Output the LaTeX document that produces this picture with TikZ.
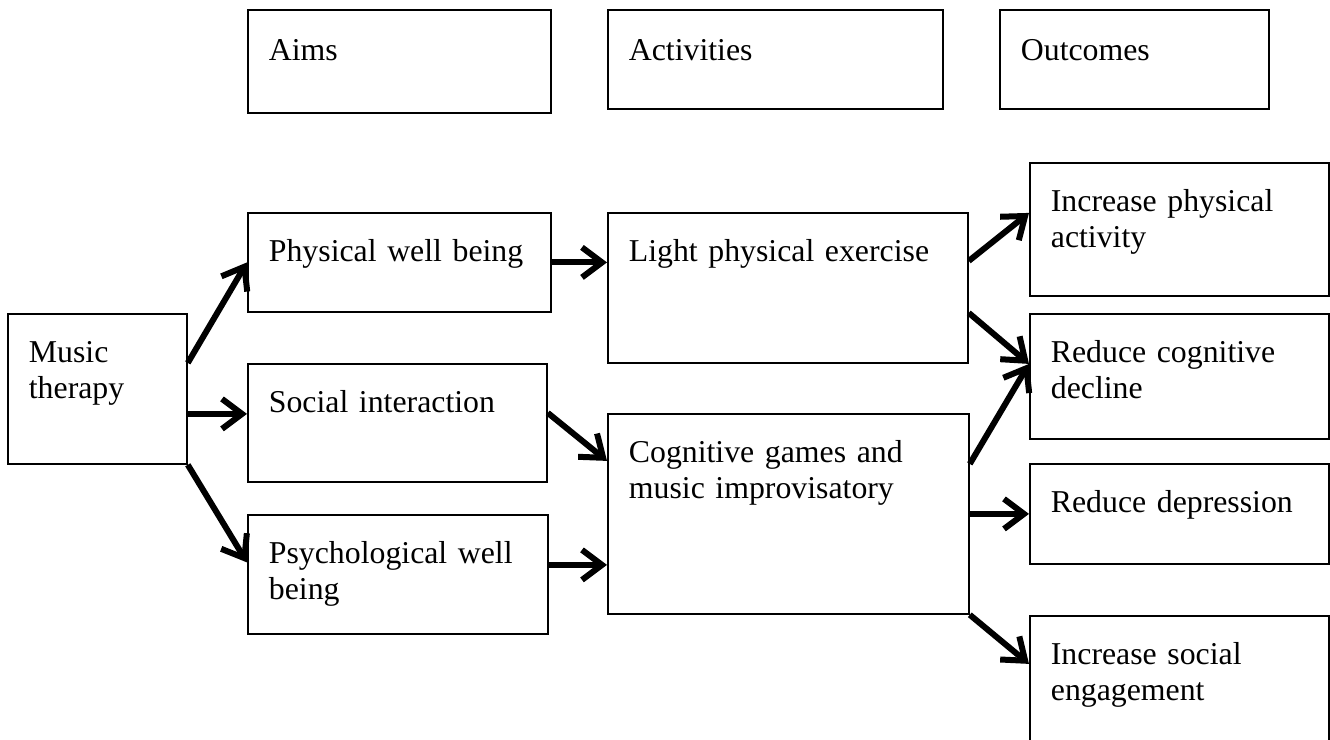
\documentclass[tikz,border=0pt]{standalone}
\usepackage{fontspec}
\setmainfont{Liberation Serif}
\usetikzlibrary{arrows.meta}

\begin{document}
\begin{tikzpicture}[x=0.5pt, y=-0.5pt,
  box/.style = {draw, line width=0.9pt, anchor=north west, align=left,
    inner xsep=10.5pt, inner ysep=0pt, text height=24.5pt,
    font=\fontsize{15.9}{18}\selectfont},
  arr/.style = {line width=3pt, -{Straight Barb[length=10pt, width=15pt]}}]
\useasboundingbox (0,0) rectangle (1330,740);
\path (247,9) node[box, text height=25.5pt, text width=130.5pt, text depth=26pt] (aims) {Aims};
\path (607,9) node[box, text height=25.5pt, text width=146.5pt, text depth=24pt] (act) {Activities};
\path (999,9) node[box, text height=25.5pt, text width=113.5pt, text depth=24pt] (out) {Outcomes};
\path (7,313) node[box, text width=68.5pt, text depth=50.5pt] (music) {Music\\therapy};
\path (247,212) node[box, text width=130.5pt, text depth=25pt] (phys) {Physical well being};
\path (247,363) node[box, text width=128.5pt, text depth=34.5pt] (soc) {Social interaction};
\path (247,514) node[box, text width=129pt, text depth=35pt] (psy) {Psychological well\\being};
\path (607,212) node[box, text width=159pt, text depth=50.5pt] (light) {Light physical exercise};
\path (607,413) node[box, text width=159.5pt, text depth=75.5pt] (cog) {Cognitive games and\\music improvisatory};
\path (1029,162) node[box, text width=128.5pt, text depth=42pt] (incphys) {Increase physical\\activity};
\path (1029,313) node[box, text width=128.5pt, text depth=38pt] (redcog) {Reduce cognitive\\decline};
\path (1029,463) node[box, text width=128.5pt, text depth=25.5pt] (reddep) {Reduce depression};
\path (1029,615) node[box, text width=128.5pt, text depth=50.5pt] (incsoc) {Increase social\\engagement};
\draw[arr] ([yshift=13pt]music.east) -- (phys.west);
\draw[arr] ([yshift=-12.5pt]music.east) -- ([yshift=-12.5pt]music.east -| soc.west);
\draw[arr] (music.south east) -- ([yshift=6pt]psy.west);
\draw[arr] (phys.east) -- (phys.east -| light.west);
\draw[arr] ([yshift=5pt]soc.east) -- ([yshift=26.5pt]cog.west);
\draw[arr] ([yshift=4.75pt]psy.east) -- ([yshift=4.75pt]psy.east -| cog.west);
\draw[arr] ([yshift=13.5pt]light.east) -- ([yshift=8.25pt]incphys.west);
\draw[arr] ([yshift=-12.5pt]light.east) -- ([yshift=6.25pt]redcog.west);
\draw[arr] ([yshift=25pt]cog.east) -- ([yshift=6.25pt]redcog.west);
\draw[arr] (cog.east) -- (cog.east -| reddep.west);
\draw[arr] (cog.south east) -- ([yshift=13.5pt]incsoc.west);
\end{tikzpicture}
\end{document}
